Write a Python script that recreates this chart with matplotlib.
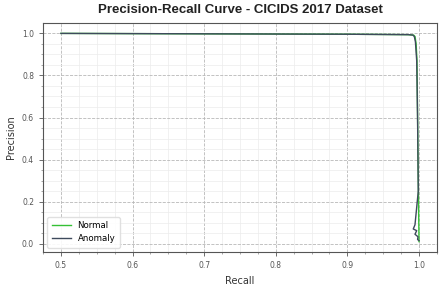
import matplotlib
matplotlib.use('Agg')
import matplotlib.pyplot as plt
from matplotlib.ticker import AutoMinorLocator

# precision-recall points
normal_recall = [0.5, 0.7, 0.9, 0.985, 0.9925, 0.9945, 0.9960, 0.9972, 0.9985, 1.0]
normal_precision = [1.0, 0.998, 0.996, 0.994, 0.992, 0.985, 0.95, 0.87, 0.45, 0.01]

anomaly_recall = [0.5, 0.7, 0.9, 0.985, 0.9915, 0.9935, 0.9950, 0.9968, 0.9980, 0.9990,
                  0.9944, 0.9920, 0.9968, 0.9944, 0.9986, 0.9980, 1.0]
anomaly_precision = [1.0, 0.998, 0.996, 0.994, 0.992, 0.985, 0.96, 0.87, 0.6, 0.25,
                     0.09, 0.07, 0.062, 0.045, 0.033, 0.02, 0.015]

fig, ax = plt.subplots(figsize=(4.44, 2.91), dpi=100)

ax.plot(normal_recall, normal_precision, color='#35c035', lw=1.0, label='Normal')
ax.plot(anomaly_recall, anomaly_precision, color='#3e4a5c', lw=1.0, label='Anomaly')

ax.set_title('Precision-Recall Curve - CICIDS 2017 Dataset', fontsize=9.5,
             fontweight='bold', family='Liberation Sans', color='#222222', pad=7)
ax.set_xlabel('Recall', fontsize=7, color='#333333', labelpad=4)
ax.set_ylabel('Precision', fontsize=7, color='#333333', labelpad=4)

ax.xaxis.set_minor_locator(AutoMinorLocator(4))
ax.yaxis.set_minor_locator(AutoMinorLocator(4))
ax.grid(which='major', color='#b8b8b8', linestyle='--', linewidth=0.6)
ax.grid(which='minor', color='#ececec', linestyle='-', linewidth=0.5)
ax.tick_params(which='major', labelsize=5.5, colors='#555555', length=3, width=0.6)
ax.tick_params(which='minor', length=1.5, width=0.4, colors='#666666')
for s in ax.spines.values():
    s.set_color('#555555')
    s.set_linewidth(0.8)

leg = ax.legend(loc='lower left', fontsize=6.2, frameon=True, framealpha=0.9,
                edgecolor='#dddddd', handlelength=2.2, borderpad=0.5)

fig.subplots_adjust(left=0.097, right=0.984, top=0.921, bottom=0.134)
fig.savefig('out.png', dpi=100)
